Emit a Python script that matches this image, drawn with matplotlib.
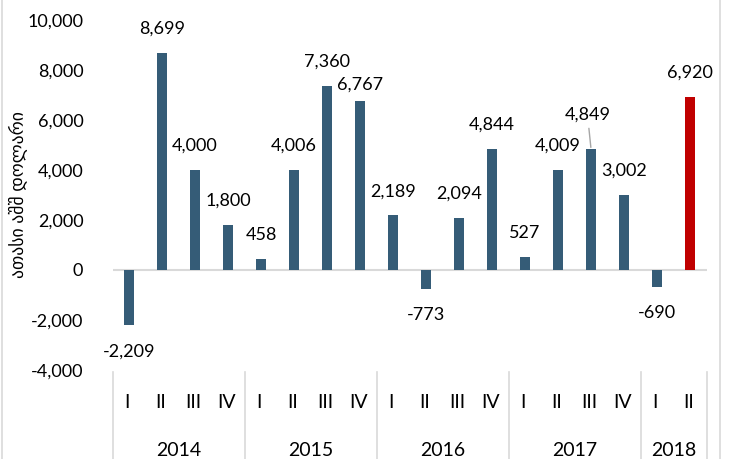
import matplotlib.pyplot as plt
import matplotlib.transforms as mtransforms
from matplotlib.lines import Line2D

# datos del grafico
anios = ["2014", "2015", "2016", "2017", "2018"]
trimestres_por_anio = [4, 4, 4, 4, 2]
trimestres = ["I", "II", "III", "IV"] * 4 + ["I", "II"]
valores = [-2209, 8699, 4000, 1800, 458, 4006, 7360, 6767,
           2189, -773, 2094, 4844, 527, 4009, 4849, 3002, -690, 6920]
etiqueta_y = "ათასი აშშ დოლარი"

AZUL = "#355C77"
ROJO = "#C00000"
GRIS = "#D9D9D9"
FUENTE = ["Lato", "DejaVu Sans"]

plt.rcParams["font.family"] = FUENTE

fig = plt.figure(figsize=(7.29, 4.59), dpi=100)
ax = fig.add_axes([112.5 / 729, 1 - 370 / 459, 594 / 729, 350 / 459])

x = list(range(len(valores)))
colores = [AZUL] * (len(valores) - 1) + [ROJO]
ax.bar(x, valores, width=0.32, color=colores, zorder=2)
ax.axhline(0, color=GRIS, lw=1.5, zorder=1)

ax.set_xlim(-0.5, len(valores) - 0.5)
ax.set_ylim(-4000, 10000)
ax.set_yticks(range(-4000, 10001, 2000))
ax.set_yticklabels([f"{v:,}" for v in range(-4000, 10001, 2000)], fontsize=13)
ax.tick_params(axis="y", length=0, pad=21)
ax.set_xticks([])
for s in ax.spines.values():
    s.set_visible(False)

# etiquetas de datos (desplazamiento en puntos, 1 px = 0.72 pt)
desp_especial = {7: 16, 14: 34}
for i, v in enumerate(valores):
    if v >= 0:
        d = desp_especial.get(i, 24) * 0.72
    else:
        d = -26 * 0.72
    if i == 14:
        ax.annotate(f"{v:,}", xy=(i, v), xytext=(-3.5 * 0.72, d),
                    textcoords="offset points", ha="center", va="center",
                    fontsize=13,
                    arrowprops=dict(arrowstyle="-", color="#A6A6A6", lw=1,
                                    shrinkA=2, shrinkB=1))
    else:
        ax.annotate(f"{v:,}", xy=(i, v), xytext=(0, d),
                    textcoords="offset points", ha="center", va="center",
                    fontsize=13)

# eje de categorias de dos niveles
tr = mtransforms.blended_transform_factory(ax.transData, ax.transAxes)
for i, t in enumerate(trimestres):
    ax.text(i - 0.05, -0.094, t, transform=tr, ha="center", va="center",
            fontsize=14)

inicio = -0.5
bordes = [inicio]
for anio, n in zip(anios, trimestres_por_anio):
    ax.text(inicio + n / 2, -0.229, anio, transform=tr, ha="center",
            va="center", fontsize=14)
    inicio += n
    bordes.append(inicio)
for b in bordes:
    ax.add_line(Line2D([b, b], [-0.006, -0.26], transform=tr, color=GRIS,
                       lw=1.2, clip_on=False))

fig.text(18 / 729, 1 - 194 / 459, etiqueta_y, rotation=90, ha="center",
         va="center", fontsize=12.8)

# marco del grafico
for xf in (2 / 729, 720 / 729):
    fig.add_artist(Line2D([xf, xf], [0, 1], color=GRIS, lw=1.2))

fig.savefig("out.png", dpi=100)
